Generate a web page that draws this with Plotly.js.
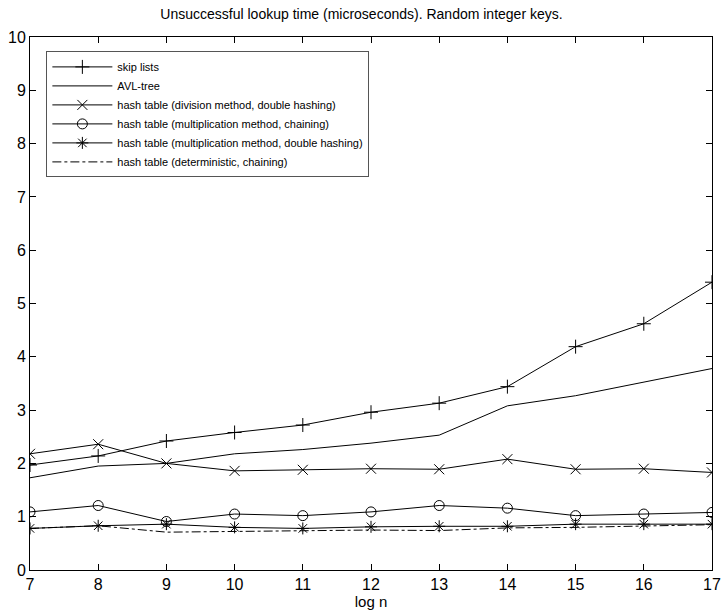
<!DOCTYPE html>
<html>
<head>
<meta charset="utf-8">
<script src="https://cdn.plot.ly/plotly-3.0.1.min.js"></script>
<style>html,body{margin:0;padding:0;background:#fff;}#chart{width:723px;height:616px;}</style>
</head>
<body>
<div id="chart"></div>
<script>
const logN = [7, 8, 9, 10, 11, 12, 13, 14, 15, 16, 17];
const seriesNames = [
  "skip lists",
  "AVL-tree",
  "hash table (division method, double hashing)",
  "hash table (multiplication method, chaining)",
  "hash table (multiplication method, double hashing)",
  "hash table (deterministic, chaining)"
];
const skipLists   = [1.97, 2.14, 2.42, 2.58, 2.72, 2.96, 3.13, 3.44, 4.19, 4.62, 5.40];
const avlTree     = [1.73, 1.95, 2.00, 2.18, 2.26, 2.38, 2.53, 3.08, 3.27, 3.52, 3.78];
const hashDivDbl  = [2.18, 2.36, 2.00, 1.86, 1.88, 1.90, 1.89, 2.08, 1.89, 1.90, 1.83];
const hashMulCh   = [1.09, 1.21, 0.91, 1.05, 1.02, 1.09, 1.21, 1.16, 1.02, 1.05, 1.08];
const hashMulDbl  = [0.78, 0.83, 0.86, 0.80, 0.78, 0.81, 0.82, 0.82, 0.86, 0.86, 0.86];
const hashDet     = [0.78, 0.83, 0.71, 0.72, 0.74, 0.75, 0.74, 0.79, 0.80, 0.82, 0.85];

const FONT = "Liberation Sans, Arial, Helvetica, sans-serif";
function tr(name, y, symbol, dash, rank) {
  const t = {
    x: logN, y: y, name: name, type: "scatter", legendrank: rank,
    mode: symbol ? "lines+markers" : "lines",
    line: {color: "#000", width: 1, dash: dash || "solid"}
  };
  if (symbol) t.marker = {symbol: symbol, size: 10, color: "#000", line: {color: "#000", width: 1}};
  return t;
}
const data = [
  tr(seriesNames[0], skipLists, "cross-thin-open", null, 1000),
  tr(seriesNames[1], avlTree, null, null, 1001),
  tr(seriesNames[2], hashDivDbl, "x-thin-open", null, 1002),
  tr(seriesNames[3], hashMulCh, "circle-open", null, 1003),
  tr(seriesNames[5], hashDet, null, "dashdot", 1005),
  tr(seriesNames[4], hashMulDbl, "asterisk-open", null, 1004)
];

const axisCommon = {
  showgrid: false, zeroline: false, showline: true, linecolor: "#000", linewidth: 1,
  mirror: "ticks", ticks: "inside", ticklen: 6, tickcolor: "#000",
  tickfont: {family: FONT, size: 16, color: "#000"}
};
const layout = {
  width: 723, height: 616,
  margin: {l: 30, r: 11, t: 37, b: 46},
  paper_bgcolor: "#fff", plot_bgcolor: "#fff",
  title: {text: "Unsuccessful lookup time (microseconds). Random integer keys.",
          font: {family: FONT, size: 14, color: "#000"}, x: 0.5, xanchor: "center", y: 0.985, yanchor: "top"},
  xaxis: Object.assign({}, axisCommon, {range: [7, 17], dtick: 1, tick0: 7,
          title: {text: "log n", font: {family: FONT, size: 15, color: "#000"}, standoff: 0}}),
  yaxis: Object.assign({}, axisCommon, {range: [0, 10], dtick: 1, tick0: 0}),
  showlegend: true,
  legend: {x: 0.024, y: 0.973, xanchor: "left", yanchor: "top",
           bgcolor: "#fff", bordercolor: "#555", borderwidth: 1,
           font: {family: FONT, size: 11, color: "#000"}, itemwidth: 60, tracegroupgap: 0}
};
Plotly.newPlot("chart", data, layout, {displayModeBar: false, staticPlot: true});
</script>
</body>
</html>
